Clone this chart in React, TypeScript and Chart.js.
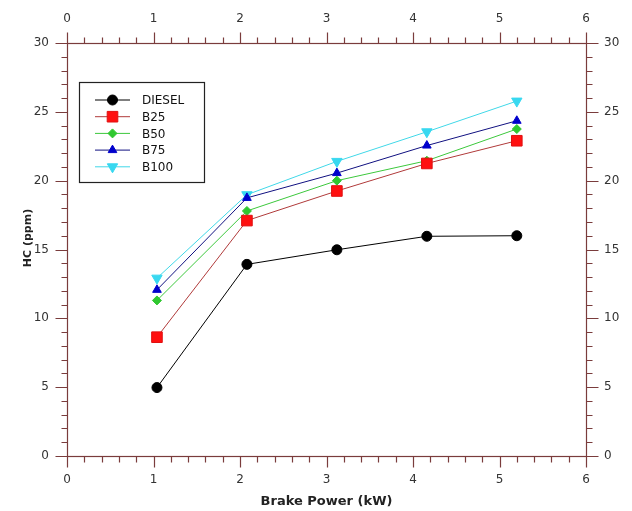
import React, { useEffect, useRef } from 'react';
import { Chart, registerables } from 'chart.js';
import { drawPoint } from 'chart.js/helpers';

Chart.register(...registerables);

// ---- data ----
const brakePower = [1.04, 2.08, 3.12, 4.16, 5.2];
const diesel = [4.97, 13.92, 14.98, 15.96, 16.0];
const b25 = [8.63, 17.1, 19.25, 21.25, 22.9];
const b50 = [11.3, 17.8, 20.0, 21.45, 23.75];
const b75 = [12.07, 18.75, 20.55, 22.55, 24.35];
const b100 = [12.92, 18.98, 21.4, 23.55, 25.78];
const seriesNames = ['DIESEL', 'B25', 'B50', 'B75', 'B100'];
const xTitle = 'Brake Power (kW)';
const yTitle = 'HC (ppm)';
const xMin = 0, xMax = 6, xMajor = 1, xMinor = 0.2;
const yMin = 0, yMax = 30, yMajor = 5, yMinor = 1;

// ---- styles ----
const AXIS = '#7a3c3c';
const LABEL = '#333333';
const FONT = '"DejaVu Sans", Verdana, sans-serif';

const styles = [
  { line: '#000000', fill: '#000000', border: '#000000', point: 'circle', radius: 5, rotation: 0 },
  { line: '#b03a3a', fill: '#ff1010', border: '#e01010', point: 'rect', radius: 7.5, rotation: 0 },
  { line: '#3cc83c', fill: '#30c830', border: '#30c830', point: 'rectRot', radius: 4.5, rotation: 0 },
  { line: '#101080', fill: '#0000cc', border: '#0000cc', point: 'triangle', radius: 5, rotation: 0 },
  { line: '#40d8e8', fill: '#38d8f0', border: '#38d8f0', point: 'triangle', radius: 6, rotation: 180 },
];
const seriesValues = [diesel, b25, b50, b75, b100];

const framePlugin = {
  id: 'frameTicks',
  afterDraw(chart: any) {
    const { ctx, chartArea } = chart;
    const { left, right, top, bottom } = chartArea;
    const xs = chart.scales.x;
    const ys = chart.scales.y;
    ctx.save();
    ctx.strokeStyle = AXIS;
    ctx.lineWidth = 1.2;
    const L = Math.round(left) + 0.5, R = Math.round(right) + 0.5;
    const T = Math.round(top) + 0.5, B = Math.round(bottom) + 0.5;
    ctx.strokeRect(L, T, R - L, B - T);
    ctx.beginPath();
    const nx = Math.round((xMax - xMin) / xMinor);
    for (let i = 0; i <= nx; i++) {
      const v = xMin + i * xMinor;
      const px = Math.round(xs.getPixelForValue(v)) + 0.5;
      const major = i % Math.round(xMajor / xMinor) === 0;
      const len = major ? 11 : 6;
      ctx.moveTo(px, B); ctx.lineTo(px, B + len);
      ctx.moveTo(px, T); ctx.lineTo(px, T - len);
    }
    const ny = Math.round((yMax - yMin) / yMinor);
    for (let i = 0; i <= ny; i++) {
      const v = yMin + i * yMinor;
      const py = Math.round(ys.getPixelForValue(v)) + 0.5;
      const major = i % Math.round(yMajor / yMinor) === 0;
      const len = major ? 12 : 6;
      ctx.moveTo(L, py); ctx.lineTo(L - len, py);
      ctx.moveTo(R, py); ctx.lineTo(R + len, py);
    }
    ctx.stroke();

    // y title
    ctx.save();
    ctx.translate(28, 238);
    ctx.rotate(-Math.PI / 2);
    ctx.fillStyle = '#222222';
    ctx.font = 'bold 11px ' + FONT;
    ctx.textAlign = 'center';
    ctx.textBaseline = 'middle';
    ctx.fillText(yTitle, 0, 0);
    ctx.restore();

    // legend
    const bx = 79.5, by = 82.5, bw = 125, bh = 100;
    ctx.strokeStyle = '#222222';
    ctx.lineWidth = 1.2;
    ctx.strokeRect(bx, by, bw, bh);
    ctx.font = '12px ' + FONT;
    ctx.textAlign = 'left';
    ctx.textBaseline = 'middle';
    seriesNames.forEach((name, i) => {
      const st = styles[i];
      const yy = 100 + i * 16.7;
      ctx.strokeStyle = st.line;
      ctx.lineWidth = 1;
      ctx.beginPath();
      ctx.moveTo(95, yy);
      ctx.lineTo(130, yy);
      ctx.stroke();
      ctx.fillStyle = st.fill;
      ctx.strokeStyle = st.border;
      drawPoint(ctx, { pointStyle: st.point, radius: st.radius, rotation: st.rotation, borderWidth: 1 } as any, 112.5, yy);
      ctx.fillStyle = '#111111';
      ctx.fillText(name, 142, yy + 1);
    });
    ctx.restore();
  },
};

export default function App() {
  const ref = useRef<HTMLCanvasElement | null>(null);
  useEffect(() => {
    if (!ref.current) return;
    const datasets = seriesNames.map((name, i) => ({
      label: name,
      data: brakePower.map((x, j) => ({ x, y: seriesValues[i][j] })),
      borderColor: styles[i].line,
      backgroundColor: styles[i].fill,
      pointBackgroundColor: styles[i].fill,
      pointBorderColor: styles[i].border,
      pointStyle: styles[i].point as any,
      pointRadius: styles[i].radius,
      pointRotation: styles[i].rotation,
      pointBorderWidth: 1,
      borderWidth: 1,
      tension: 0,
      showLine: true,
    }));
    const tickFont = { family: FONT, size: 12 };
    const chart = new Chart(ref.current, {
      type: 'scatter',
      data: { datasets },
      options: {
        responsive: false,
        animation: false,
        layout: { padding: 0 },
        plugins: { legend: { display: false }, tooltip: { enabled: false } },
        scales: {
          x: {
            type: 'linear', position: 'bottom', min: xMin, max: xMax,
            grid: { display: false, drawTicks: false },
            border: { display: false },
            ticks: { stepSize: xMajor, font: tickFont, color: LABEL, padding: 17, maxRotation: 0 },
            title: { display: true, text: xTitle, font: { family: FONT, size: 13, weight: 'bold' }, color: '#222222', padding: { top: 0, bottom: 2 } },
            afterFit: (s: any) => { s.height = 55; },
          },
          x2: {
            type: 'linear', position: 'top', min: xMin, max: xMax,
            grid: { display: false, drawTicks: false },
            border: { display: false },
            ticks: { stepSize: xMajor, font: tickFont, color: LABEL, padding: 17, maxRotation: 0 },
            afterFit: (s: any) => { s.height = 43; },
          },
          y: {
            type: 'linear', position: 'left', min: yMin, max: yMax,
            grid: { display: false, drawTicks: false },
            border: { display: false },
            ticks: { stepSize: yMajor, font: tickFont, color: LABEL, padding: 18 },
            afterFit: (s: any) => { s.width = 67; },
          },
          y2: {
            type: 'linear', position: 'right', min: yMin, max: yMax,
            grid: { display: false, drawTicks: false },
            border: { display: false },
            ticks: { stepSize: yMajor, font: tickFont, color: LABEL, padding: 18 },
            afterFit: (s: any) => { s.width = 46; },
          },
        },
      } as any,
      plugins: [framePlugin],
    });
    return () => chart.destroy();
  }, []);
  return (
    <canvas
      ref={ref}
      width={632}
      height={511}
      style={{ position: 'fixed', left: 0, top: 0, width: 632, height: 511, display: 'block', background: '#ffffff' }}
    />
  );
}
